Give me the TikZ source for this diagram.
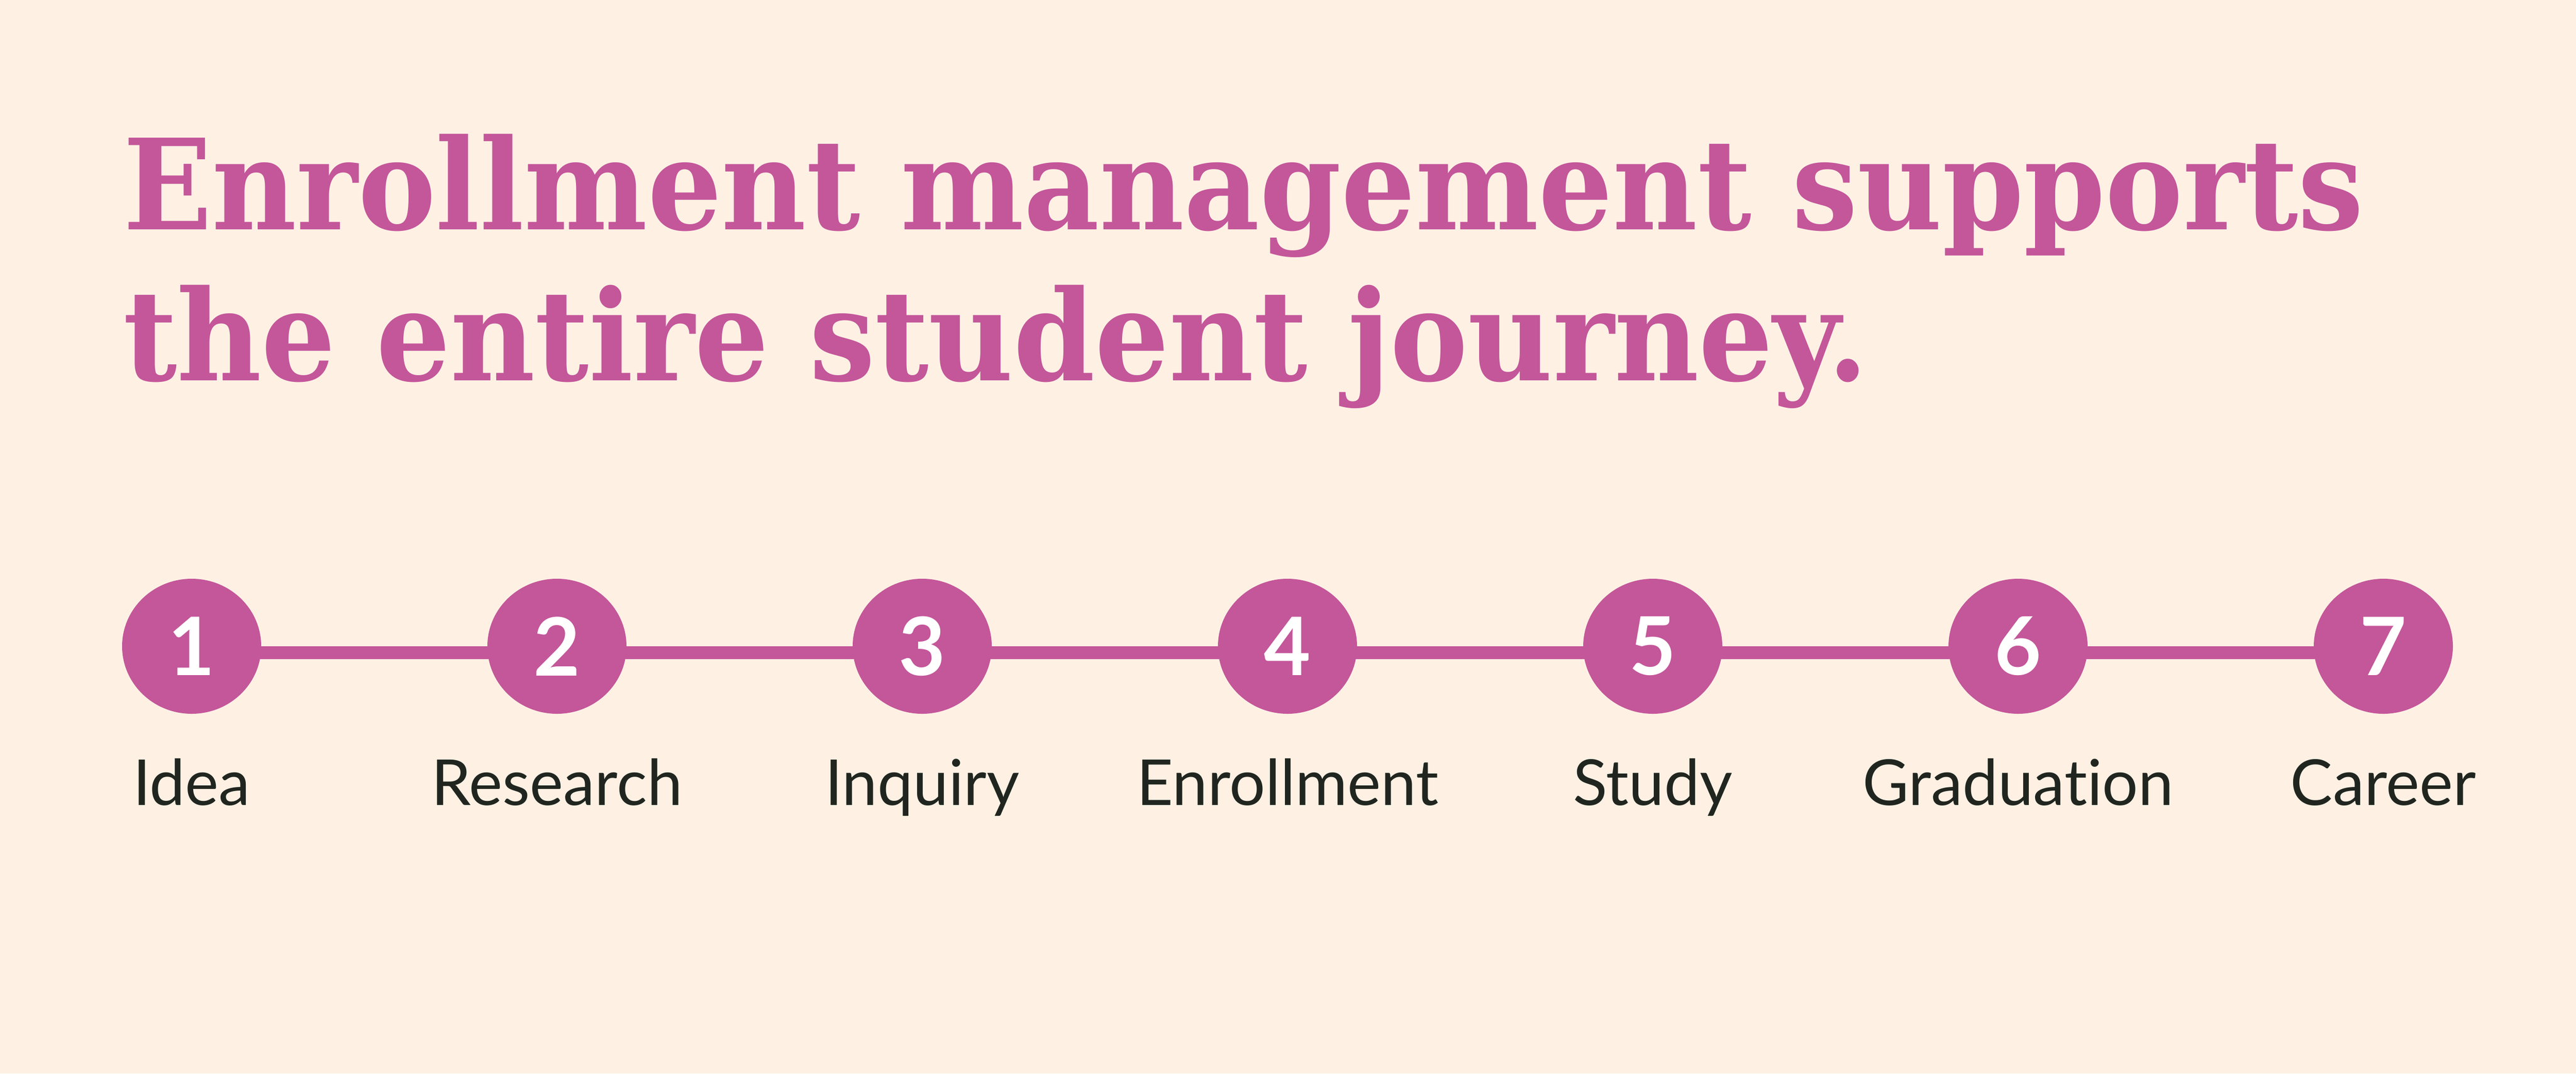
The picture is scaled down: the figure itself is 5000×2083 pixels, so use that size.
\documentclass[tikz,border=0pt]{standalone}
\usepackage{fontspec}
\setmainfont{Lato}[Ligatures={NoCommon,NoRare}]
\newfontfamily\titlefont{DejaVu Serif}
\usetikzlibrary{shapes.geometric,backgrounds}
\definecolor{bgcol}{HTML}{FEF1E4}
\definecolor{pinkcol}{HTML}{C4569A}
\definecolor{darkcol}{HTML}{20261F}
\newcommand{\titlesquash}[1]{\scalebox{0.927}[1]{#1}}
\tikzset{
  stepdot/.style={ellipse,fill=pinkcol,inner sep=0pt,minimum width=270*0.2pt,minimum height=262*0.2pt,
    text=white,font=\fontsize{31.3pt}{31.3pt}\selectfont\bfseries},
  steplabel/.style={anchor=base,inner sep=0pt,text=darkcol,font=\fontsize{24.6pt}{24.6pt}\selectfont},
  titleline/.style={anchor=base west,inner sep=0pt,text=pinkcol,font=\fontsize{48.8pt}{48.8pt}\titlefont\bfseries},
  connector/.style={draw=pinkcol,line width=25*0.2pt}
}
\begin{document}
\begin{tikzpicture}[x=0.2pt,y=-0.2pt]
\begin{pgfonlayer}{background}
\fill[bgcol] (0,0) rectangle (5000,2083);
\end{pgfonlayer}
\useasboundingbox (0,0) rectangle (5000,2083);
\node[titleline] (t1) at (238,445) {\titlesquash{Enrollment management supports}};
\node[titleline] (t2) at (238,738) {\titlesquash{the entire student journey.}};
\foreach \i/\x/\lab in {1/372/Idea,2/1081/Research,3/1790/Inquiry,4/2499/Enrollment,5/3208/Study,6/3917/Graduation,7/4626/Career}{
  \node[stepdot] (c\i) at (\x,1254) {\i};
  \node[steplabel] (l\i) at (\x,1562) {\lab};
}
\begin{pgfonlayer}{background}
\draw[connector] ([yshift=-12*0.2pt]c1.center) -- ([yshift=-12*0.2pt]c7.center);
\end{pgfonlayer}
\end{tikzpicture}
\end{document}
